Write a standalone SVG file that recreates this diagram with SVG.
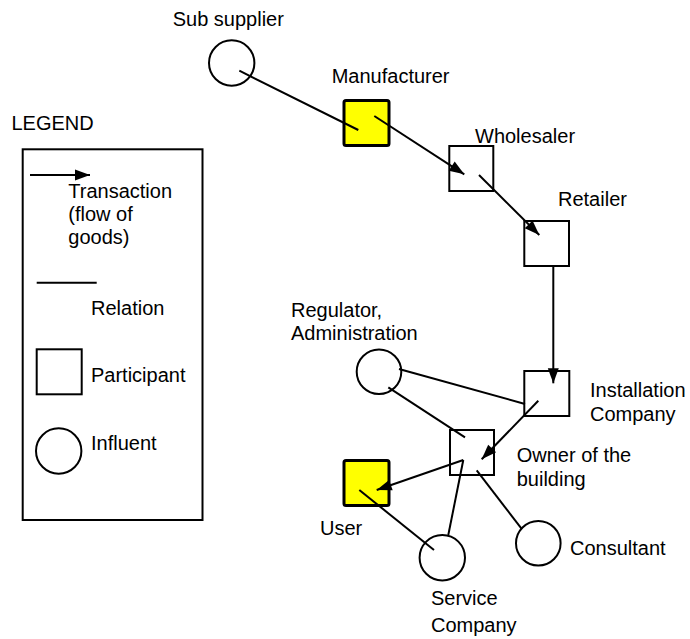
<svg xmlns="http://www.w3.org/2000/svg" width="690" height="639" viewBox="0 0 690 639">
  <style>
    text { font-family: "Liberation Sans", Arial, sans-serif; font-size: 20px; fill: #000; }
    .sq { fill: #fff; stroke: #000; stroke-width: 2; }
    .key { fill: #ffff00; stroke: #000; stroke-width: 3; }
    .inf { fill: none; stroke: #000; stroke-width: 2; }
    .rel { fill: none; stroke: #000; stroke-width: 2; }
    .tx { fill: none; stroke: #000; stroke-width: 2; marker-end: url(#head); }
  </style>
  <defs>
    <marker id="head" markerUnits="userSpaceOnUse" markerWidth="16" markerHeight="12" refX="15" refY="5.5" orient="auto" overflow="visible">
      <path d="M0,0 L15,5.5 L0,11 z" fill="#000"/>
    </marker>
  </defs>

  <rect width="690" height="639" fill="#fff"/>

  <!-- legend -->
  <g id="legend">
    <text x="11.5" y="129.5">LEGEND</text>
    <rect x="22.7" y="149.3" width="179.8" height="370.7" fill="none" stroke="#000" stroke-width="2"/>
    <line class="tx" x1="30" y1="175" x2="90" y2="175"/>
    <text x="68.3" y="197.5">Transaction</text>
    <text x="68.3" y="220.5">(flow of</text>
    <text x="68.3" y="243.5">goods)</text>
    <line class="rel" x1="36.7" y1="282.7" x2="96.7" y2="282.7"/>
    <text x="91" y="315">Relation</text>
    <rect class="sq" x="36.7" y="349.3" width="45" height="45"/>
    <text x="91" y="381.7">Participant</text>
    <circle class="inf" cx="58.7" cy="451" r="22.7"/>
    <text x="91" y="450">Influent</text>
  </g>

  <!-- nodes -->
  <g id="sub-supplier">
    <circle class="inf" cx="231.7" cy="63" r="22.7"/>
    <text x="172.7" y="26">Sub supplier</text>
  </g>
  <g id="manufacturer">
    <rect class="key" x="344" y="100.5" width="45" height="45" rx="2"/>
    <text x="331.7" y="83">Manufacturer</text>
  </g>
  <g id="wholesaler">
    <rect class="sq" x="449.3" y="146" width="44" height="45"/>
    <text x="475" y="142.7">Wholesaler</text>
  </g>
  <g id="retailer">
    <rect class="sq" x="524.3" y="221" width="44.7" height="45"/>
    <text x="558" y="206">Retailer</text>
  </g>
  <g id="installation-company">
    <rect class="sq" x="524.3" y="371" width="45" height="45"/>
    <text x="590" y="397">Installation</text>
    <text x="590" y="421">Company</text>
  </g>
  <g id="regulator">
    <circle class="inf" cx="379" cy="371.7" r="22.3"/>
    <text x="291" y="316.7">Regulator,</text>
    <text x="291" y="339.5">Administration</text>
  </g>
  <g id="owner">
    <rect class="sq" x="450" y="430" width="44" height="45"/>
    <text x="516.7" y="462.3">Owner of the</text>
    <text x="516.7" y="485.7">building</text>
  </g>
  <g id="user">
    <rect class="key" x="344" y="460.5" width="45" height="45" rx="2"/>
    <text x="320" y="535">User</text>
  </g>
  <g id="service-company">
    <circle class="inf" cx="442.3" cy="557.7" r="22.7"/>
    <text x="431" y="604.5">Service</text>
    <text x="431" y="632">Company</text>
  </g>
  <g id="consultant">
    <circle class="inf" cx="538.3" cy="543.3" r="22.3"/>
    <text x="570" y="555">Consultant</text>
  </g>

  <!-- connectors -->
  <g id="connectors">
    <line class="rel" x1="239.3" y1="70.7" x2="358.3" y2="130"/>
    <line class="tx" x1="374.3" y1="116" x2="464.3" y2="174.3"/>
    <line class="tx" x1="479" y1="175" x2="539.3" y2="235"/>
    <line class="tx" x1="553.3" y1="266" x2="553.3" y2="383.3"/>
    <line class="tx" x1="538.3" y1="400.7" x2="481.7" y2="459.3"/>
    <line class="rel" x1="399" y1="369" x2="525" y2="404"/>
    <line class="rel" x1="388.3" y1="387.3" x2="465" y2="437.3"/>
    <line class="tx" x1="463.3" y1="460" x2="376.7" y2="490"/>
    <line class="rel" x1="463.3" y1="460" x2="448.3" y2="535"/>
    <line class="rel" x1="359.3" y1="490" x2="434" y2="550"/>
    <line class="rel" x1="476.7" y1="470.3" x2="521.5" y2="528.7"/>
  </g>
</svg>
